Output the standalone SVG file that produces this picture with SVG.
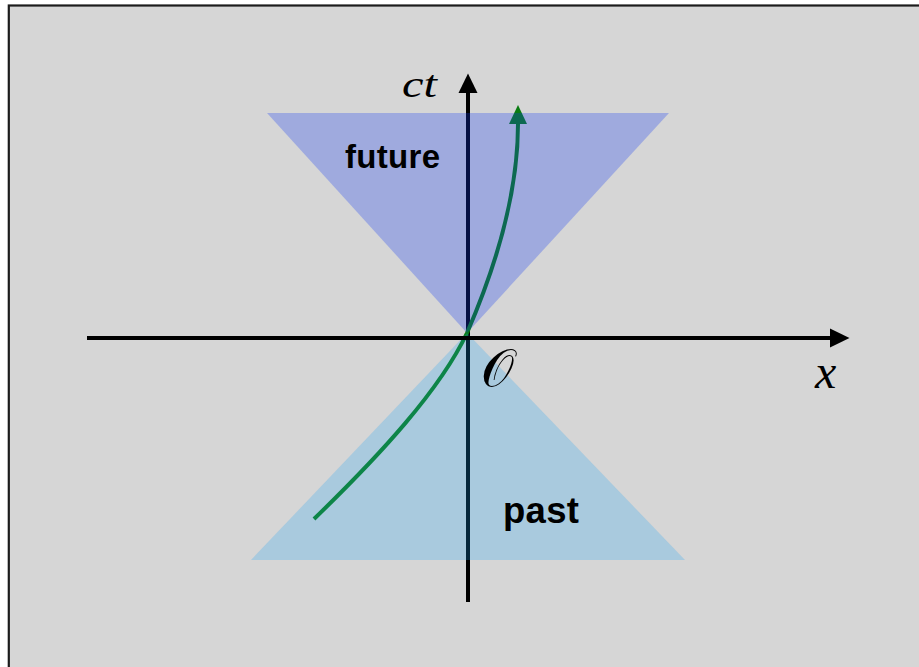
<svg xmlns="http://www.w3.org/2000/svg" width="919" height="667" viewBox="0 0 919 667">
  <style>
    .axis { stroke: #000; stroke-width: 4; fill: none; }
    .world { stroke: #0a7c12; stroke-width: 4; fill: none; }
    .lbl { font-family: "Liberation Sans", Arial, sans-serif; font-weight: bold; fill: #000; }
    .math { font-family: "Liberation Serif", "Times New Roman", serif; font-style: italic; fill: #000; }
  </style>
  <defs>
    <marker id="arrK" viewBox="0 -10 20 20" markerWidth="20" markerHeight="20" refX="0" refY="0" orient="auto" markerUnits="userSpaceOnUse">
      <path d="M0,-9.5 L19.5,0 L0,9.5 Z" fill="#000"/>
    </marker>
    <marker id="arrG" viewBox="0 -10 20 20" markerWidth="20" markerHeight="20" refX="0" refY="0" orient="auto" markerUnits="userSpaceOnUse">
      <path d="M0,-9 L19,0 L0,9 Z" fill="#0a7c12"/>
    </marker>
  </defs>
  <rect x="0" y="0" width="919" height="667" fill="#fff"/>
  <rect id="frame" x="8.8" y="5.5" width="940" height="700" fill="#d6d6d6" stroke="#1c1c1c" stroke-width="2.2"/>

  <g id="connectors">
    <path id="ct-axis" class="axis" d="M468,602 L468,93" marker-end="url(#arrK)"/>
    <path id="worldline" class="world" d="M314,519 C380,455 440,390 467,333 C490,280 518,200 518,124" marker-end="url(#arrG)"/>
  </g>

  <g id="future-cone">
    <polygon points="267,113 669,113 467,333" fill="#1239f6" fill-opacity="0.28"/>
    <text class="lbl" x="345" y="168" font-size="33" textLength="95">future</text>
  </g>
  <g id="past-cone">
    <polygon points="467,333 251,560 685,560" fill="#17a4f7" fill-opacity="0.24"/>
    <text class="lbl" x="503" y="523" font-size="36.5" textLength="76">past</text>
  </g>

  <g id="x-axis-group">
    <path id="x-axis" class="axis" d="M87,338 L830,338" marker-end="url(#arrK)"/>
  </g>

  <g id="labels">
    <text id="ct-label" class="math" x="402" y="97" font-size="38" textLength="35" lengthAdjust="spacingAndGlyphs">ct</text>
    <text id="x-label" class="math" x="815" y="388" font-size="48">x</text>
    <text id="origin-label" x="481" y="386" font-size="52" font-family="DejaVu Serif, 'Liberation Serif', serif" fill="#000">𝒪</text>
  </g>
</svg>
